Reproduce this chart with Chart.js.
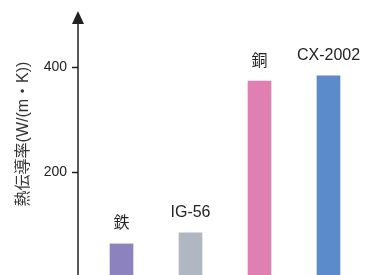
<!DOCTYPE html>
<html>
<head>
<meta charset="utf-8">
<script src="https://cdn.jsdelivr.net/npm/chart.js@4"></script>
<style>
  html, body { margin: 0; padding: 0; background: #fff; overflow: hidden; }
  #wrap { width: 380px; height: 280px; }
  canvas { display: block; }
</style>
</head>
<body>
<div id="wrap"><canvas id="chart" width="380" height="280"></canvas></div>
<script>
// thermal conductivity chart

const categories = ['鉄', 'IG-56', '銅', 'CX-2002'];
const values = [63, 84, 373, 383];
const barColors = ['#8c83be', '#b0b7c0', '#e07fb2', '#5b8bca'];
const yTicks = [200, 400];
const yTitle = '熱伝導率(W/(m・K))';

const FONT = '"Liberation Sans", Arial, "Noto Sans CJK JP", sans-serif';
const INK = '#222';
const AXIS_X = 78;

// draws the arrow axis, tick marks, bar labels and y title
const decorations = {
  id: 'decorations',
  afterDatasetsDraw(chart) {
    const ctx = chart.ctx;
    const y = chart.scales.y;
    ctx.save();

    // axis line + arrow head
    ctx.strokeStyle = INK;
    ctx.fillStyle = INK;
    ctx.lineWidth = 1.5;
    ctx.beginPath();
    ctx.moveTo(AXIS_X, 22);
    ctx.lineTo(AXIS_X, chart.height);
    ctx.stroke();
    ctx.beginPath();
    ctx.moveTo(AXIS_X, 11);
    ctx.lineTo(AXIS_X - 6, 24);
    ctx.lineTo(AXIS_X + 6, 24);
    ctx.closePath();
    ctx.fill();

    // tick marks
    yTicks.forEach(v => {
      const py = Math.round(y.getPixelForValue(v)) + 0.5;
      ctx.beginPath();
      ctx.moveTo(AXIS_X - 6, py);
      ctx.lineTo(AXIS_X, py);
      ctx.stroke();
    });

    // labels above the bars
    ctx.font = '16px ' + FONT;
    ctx.textAlign = 'center';
    ctx.textBaseline = 'middle';
    chart.getDatasetMeta(0).data.forEach((bar, i) => {
      ctx.fillText(categories[i], bar.x, bar.y - 20);
    });

    // y axis title
    ctx.translate(24, 134);
    ctx.rotate(-Math.PI / 2);
    ctx.fillStyle = '#333';
    ctx.fillText(yTitle, 0, 0);

    ctx.restore();
  }
};

new Chart(document.getElementById('chart'), {
  type: 'bar',
  data: {
    labels: categories,
    datasets: [{
      data: values,
      backgroundColor: barColors,
      borderWidth: 0,
      barThickness: 23
    }]
  },
  options: {
    responsive: false,
    animation: false,
    layout: { padding: { left: 0, right: 17, top: 25, bottom: 3 } },
    plugins: {
      legend: { display: false },
      tooltip: { enabled: false }
    },
    scales: {
      x: {
        display: false,
        offset: true
      },
      y: {
        min: 0,
        max: 480,
        grid: { display: false, drawTicks: false },
        border: { display: false },
        ticks: {
          padding: 20,
          color: INK,
          font: { size: 14, family: FONT }
        },
        afterBuildTicks(scale) {
          scale.ticks = yTicks.map(v => ({ value: v }));
        },
        afterFit(scale) {
          // fixed width, and no extra label padding above/below
          scale.width = 87;
          scale.paddingTop = 0;
          scale.paddingBottom = 0;
        }
      }
    }
  },
  plugins: [decorations]
});
</script>
</body>
</html>
